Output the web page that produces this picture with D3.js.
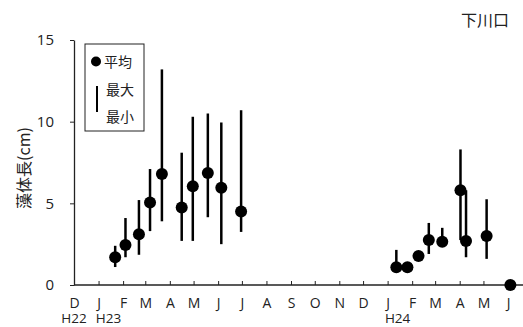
<!DOCTYPE html>
<html>
<head>
<meta charset="utf-8">
<script src="https://cdn.jsdelivr.net/npm/d3@7"></script>
<style>
  body { margin: 0; background: #fff; }
  text { font-family: "Noto Sans CJK JP", "Noto Sans", sans-serif; fill: #222; }
  .latin { font-family: "Open Sans", "Noto Sans", sans-serif; }
</style>
</head>
<body>
<script>
// 下川口 藻体長 (cm) 調査日ごと
var dates = ["2011-01-22", "2011-02-04", "2011-02-21", "2011-03-07", "2011-03-22",
             "2011-04-16", "2011-04-30", "2011-05-19", "2011-06-05", "2011-06-30",
             "2012-01-12", "2012-01-26", "2012-02-09", "2012-02-22", "2012-03-10",
             "2012-04-02", "2012-04-09", "2012-05-05", "2012-06-04"];
var meanVals = [1.7, 2.45, 3.1, 5.05, 6.8, 4.75, 6.05, 6.85, 5.95, 4.5,
                1.08, 1.08, 1.78, 2.75, 2.65, 5.8, 2.7, 3.0, 0];
var maxVals  = [2.4, 4.1, 5.2, 7.1, 13.2, 8.1, 10.3, 10.5, 9.95, 10.7,
                2.15, 1.08, 1.78, 3.8, 3.5, 8.3, 5.8, 5.25, 0];
var minVals  = [1.1, 1.7, 1.85, 3.3, 3.9, 2.7, 2.7, 4.15, 2.5, 3.25,
                1.08, 1.08, 1.78, 1.9, 2.4, 2.75, 1.7, 1.6, 0];
var monthLabels = ["D", "J", "F", "M", "A", "M", "J", "J", "A", "S", "O", "N", "D",
                   "J", "F", "M", "A", "M", "J"];
var yearLabels = [{m: 0, t: "H22"}, {m: 1, t: "H23"}, {m: 13, t: "H24"}];
var yTicks = [0, 5, 10, 15];

var width = 523, height = 327;
var svg = d3.select("body").append("svg")
    .attr("width", width).attr("height", height);

var parse = d3.timeParse("%Y-%m-%d");
var start = new Date(2010, 11, 1), end = new Date(2012, 5, 1);
var x = d3.scaleTime().domain([start, end]).range([74, 508]);
var y = d3.scaleLinear().domain([0, 15]).range([285, 40]);

var data = dates.map(function(d, i) {
  return {date: parse(d), mean: meanVals[i], max: maxVals[i], min: minVals[i]};
});

// y axis
var yAxis = svg.append("g")
    .attr("transform", "translate(74,0)")
    .call(d3.axisLeft(y).tickValues(yTicks).tickSize(4).tickSizeOuter(0));
yAxis.select(".domain").attr("stroke", "#222").attr("stroke-width", 1.3);
yAxis.selectAll(".tick line").attr("stroke", "#222");
yAxis.selectAll(".tick text").attr("class", "latin").attr("x", -20).style("font-size", "15px");

// x axis
var months = d3.timeMonth.range(start, d3.timeMonth.offset(end, 1));
var xAxis = svg.append("g")
    .attr("transform", "translate(0,285)")
    .call(d3.axisBottom(x).tickValues(months).tickSize(-4).tickSizeOuter(0)
      .tickFormat(function(d, i) { return monthLabels[i]; }));
xAxis.select(".domain").attr("d", "M74,0H523").attr("stroke", "#222").attr("stroke-width", 1.3);
xAxis.selectAll(".tick line").attr("stroke", "#222");
xAxis.selectAll(".tick").filter(function(d, i) { return i === 0; }).select("line").remove();
xAxis.selectAll(".tick text").attr("class", "latin")
    .attr("y", 0).attr("dy", null).attr("transform", "translate(0,23)")
    .style("font-size", "14px");

// 年号ラベル (H23, H24 は少し右寄り)
svg.selectAll("text.year").data(yearLabels).enter().append("text")
    .attr("class", "year latin")
    .attr("x", function(d) { return x(months[d.m]) + (d.m === 0 ? 0 : 10); })
    .attr("y", 323)
    .attr("text-anchor", "middle")
    .style("font-size", "13.5px")
    .text(function(d) { return d.t; });

// y label
svg.append("text")
    .attr("transform", "translate(30,168) rotate(-90)")
    .attr("text-anchor", "middle")
    .style("font-size", "16px")
    .text("藻体長(cm)");

// title
svg.append("text")
    .attr("x", 509).attr("y", 26)
    .attr("text-anchor", "end")
    .style("font-size", "16px")
    .text("下川口");

// range bars
svg.selectAll("line.range").data(data.filter(function(d) { return d.max > d.min; }))
  .enter().append("line")
    .attr("class", "range")
    .attr("x1", function(d) { return x(d.date); })
    .attr("x2", function(d) { return x(d.date); })
    .attr("y1", function(d) { return y(d.max); })
    .attr("y2", function(d) { return y(d.min); })
    .attr("stroke", "#000").attr("stroke-width", 2.5);

svg.selectAll("circle.mean").data(data).enter().append("circle")
    .attr("class", "mean")
    .attr("cx", function(d) { return x(d.date); })
    .attr("cy", function(d) { return y(d.mean); })
    .attr("r", 6)
    .attr("fill", "#000");

// legend
var lg = svg.append("g");
lg.append("rect").attr("x", 85).attr("y", 44).attr("width", 59).attr("height", 87)
    .attr("fill", "#fff").attr("stroke", "#222").attr("stroke-width", 1);
lg.append("circle").attr("cx", 96).attr("cy", 61.5).attr("r", 5).attr("fill", "#000");
lg.append("text").attr("x", 104).attr("y", 66.5).style("font-size", "14px").text("平均");
lg.append("line").attr("x1", 97).attr("x2", 97).attr("y1", 86).attr("y2", 112)
    .attr("stroke", "#000").attr("stroke-width", 2);
lg.append("text").attr("x", 106).attr("y", 95).style("font-size", "14px").text("最大");
lg.append("text").attr("x", 106).attr("y", 122).style("font-size", "14px").text("最小");
</script>
</body>
</html>
